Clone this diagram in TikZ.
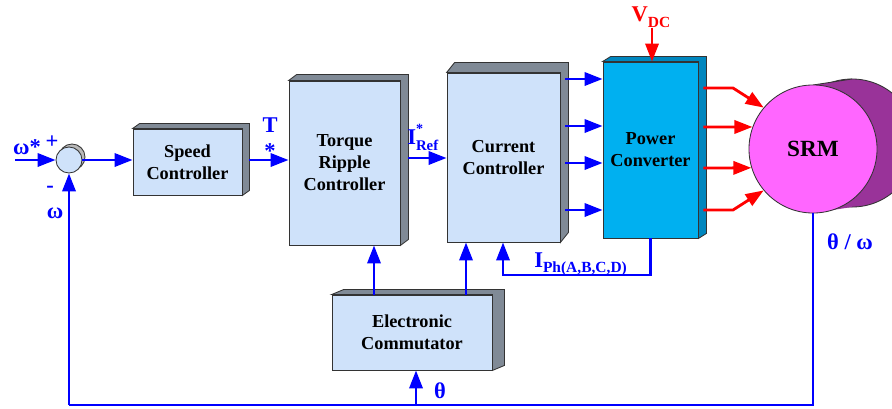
\documentclass[tikz,border=0pt]{standalone}
\usepackage{fontspec}
\setmainfont{Liberation Serif}
\usetikzlibrary{arrows.meta,calc}
\definecolor{blockblue}{HTML}{CFE2FA}
\definecolor{sidegray}{HTML}{808A96}
\definecolor{convblue}{HTML}{00B0F0}
\definecolor{convside}{HTML}{0086BE}
\definecolor{srmfront}{HTML}{FF66FF}
\definecolor{srmback}{HTML}{993399}
\definecolor{sigblue}{HTML}{0000FF}
\definecolor{pwrred}{HTML}{FF0000}

\begin{document}
\begin{tikzpicture}[x=0.025cm, y=-0.025cm,
  block/.style={draw=black!80, line width=0.6pt, fill=blockblue, inner sep=0pt, align=center,
    font=\fontsize{13}{15.6}\selectfont\bfseries},
  sig/.style={sigblue, line width=2pt, -{Triangle[length=0.45cm, width=0.33cm]}},
  pwr/.style={pwrred, line width=2pt, -{Triangle[length=0.45cm, width=0.33cm]}},
  lbl/.style={sigblue, font=\fontsize{16}{18}\selectfont\bfseries, inner sep=0pt}]
  \clip (0,0) rectangle (892,408);

  % blocks
  \node[block, minimum width=2.725cm, minimum height=1.65cm] (speed) at (187.5,162) {Speed\\Controller};
  \node[block, minimum width=2.775cm, minimum height=4.1cm] (torque) at (344.5,163) {Torque\\Ripple\\Controller};
  \node[block, minimum width=2.825cm, minimum height=4.225cm] (current) at (503.5,157.5) {Current\\Controller};
  \node[block, fill=convblue, minimum width=2.375cm, minimum height=4.4cm] (power) at (650.5,150) {Power\\Converter};
  \node[block, minimum width=4cm, minimum height=1.875cm] (comm) at (412,332.5) {Electronic\\Commutator};

  % 3d faces
  \foreach \b/\dx/\dy/\c in {speed/7/5/sidegray, torque/8/6/sidegray, current/8/10/sidegray,
                               power/8/5/convside, comm/12/5/sidegray}
    \filldraw[fill=\c, draw=black!80, line width=0.6pt] (\b.north west) -- ++(\dx,-\dy)
      -- ($(\b.north east)+(\dx,-\dy)$) -- ($(\b.south east)+(\dx,-\dy)$)
      -- (\b.south east) -- (\b.north east) -- cycle;

  % summing junction
  \filldraw[fill=gray!55, draw=black!80, line width=0.6pt] (72,157) circle[radius=0.325cm];
  \node[circle, draw=black!80, line width=0.6pt, fill=blockblue, minimum size=0.65cm, inner sep=0pt] (sum) at (69,160) {};

  % motor
  \filldraw[fill=srmback, draw=black!80, line width=0.6pt] (852,143) circle[radius=1.6cm];
  \fill[srmback] (813,85) -- (852,79) -- (852,207) -- (813,213) -- cycle;
  \draw[black!80, line width=0.6pt] (813,85) -- (852,79);
  \node[circle, draw=black!80, line width=0.6pt, fill=srmfront, minimum size=3.2cm, inner sep=0pt,
    font=\fontsize{16.5}{18}\selectfont\bfseries] (srm) at (813,149) {SRM};

  % labels
  \coordinate (win) at (15,160);
  \node[lbl] (wref) at (27,147) {ω*};
  \node[lbl] (plus) at (52,142) {+};
  \node[lbl] (minus) at (50,189) {-};
  \node[lbl] (wfb) at (55,213) {ω};
  \node[lbl, align=center, font=\fontsize{16}{19}\selectfont\bfseries] (tref) at (270,138) {T\\*};
  \node[lbl, anchor=west] (iref) at (407,137) {I\rlap{\raisebox{1.1ex}{\fontsize{10}{10}\selectfont *}}\raisebox{-0.55ex}{\fontsize{10.5}{11}\selectfont Ref}};
  \node[lbl, pwrred] (vdc) at (651,17) {V\raisebox{-0.55ex}{\fontsize{11}{11}\selectfont DC}};
  \node[lbl, anchor=west] (iph) at (534,264) {I\raisebox{-0.45ex}{\fontsize{11}{11}\selectfont Ph(A,B,C,D)}};
  \node[lbl] (thw) at (850,242) {θ / ω};
  \node[lbl] (th) at (440,391) {θ};

  % signal path
  \draw[sig] (win) -- (sum);
  \draw[sig] (sum) -- (speed.west |- sum);
  \draw[sig] (speed.east |- 0,160) ++(7,0) -- (torque.west |- 0,160);
  \draw[sig] (torque.east |- 0,158) ++(8,0) -- (current.west |- 0,158);
  \foreach \y in {79,126,163,210}
    \draw[sig] (current.east |- 0,\y) ++(5,0) -- (power.west |- 0,\y);
  \draw[pwr] (vdc.south -| 652,0) -- (power.north -| 652,0);
  \draw[pwr] (power.east |- 0,88) ++(5,0) -- (733,88) -- (srm.140);
  \draw[pwr] (power.east |- 0,127) ++(5,0) -- (srm.160);
  \draw[pwr] (power.east |- 0,168) ++(5,0) -- (srm.197);
  \draw[pwr] (power.east |- 0,210) ++(5,0) -- (733,210) -- (srm.220);

  % feedback
  \draw[sig] (power.south) |- (503,275) -- (current.south -| 503,0);
  \draw[sig] (comm.north -| 374,0) -- (torque.south -| 374,0);
  \draw[sig] (comm.north -| 466,0) -- (current.south -| 466,0);
  \draw[sigblue, line width=2pt] (srm.south) -- (srm.south |- 0,405) -- (sum.south |- 0,405);
  \draw[sig] (sum.south |- 0,405) -- (sum.south);
  \draw[sig] (comm.south -| 416,0) ++(0,35) -- (comm.south -| 416,0);
\end{tikzpicture}
\end{document}
